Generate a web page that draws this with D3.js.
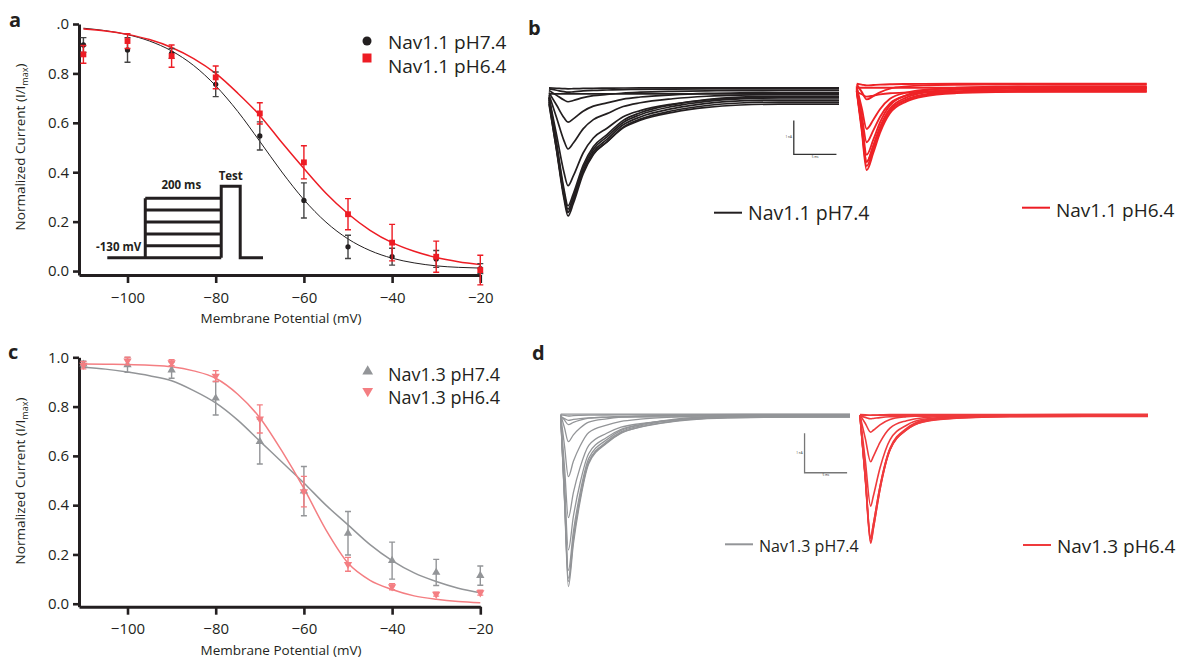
<!DOCTYPE html>
<html>
<head>
<meta charset="utf-8">
<script src="https://cdn.jsdelivr.net/npm/d3@7"></script>
<style>
  body { margin: 0; background: #fff; }
  text { font-family: "Open Sans", sans-serif; fill: #231f20; }
</style>
</head>
<body>
<div id="chart"></div>
<script>
// ---- steady-state inactivation data (a, c) ----
const voltages = [-110, -100, -90, -80, -70, -60, -50, -40, -30, -20];

const nav11_pH74     = [0.915, 0.895, 0.881, 0.756, 0.547, 0.286, 0.098, 0.058, 0.049, 0.010];
const nav11_pH74_err = [0.030, 0.050, 0.020, 0.050, 0.057, 0.071, 0.047, 0.034, 0.034, 0.020];
const nav11_pH64     = [0.877, 0.931, 0.870, 0.784, 0.638, 0.440, 0.230, 0.115, 0.058, 0.004];
const nav11_pH64_err = [0.036, 0.030, 0.045, 0.046, 0.043, 0.067, 0.063, 0.074, 0.063, 0.060];

const nav13_pH74     = [0.972, 0.969, 0.948, 0.834, 0.658, 0.457, 0.286, 0.175, 0.127, 0.114];
const nav13_pH74_err = [0.012, 0.030, 0.033, 0.068, 0.091, 0.100, 0.088, 0.075, 0.053, 0.039];
const nav13_pH64     = [0.968, 0.985, 0.978, 0.924, 0.750, 0.455, 0.160, 0.069, 0.039, 0.045];
const nav13_pH64_err = [0.015, 0.015, 0.012, 0.022, 0.057, 0.062, 0.028, 0.012, 0.008, 0.010];

// fitted curves, every 5 mV
const fitV = [-110, -105, -100, -95, -90, -85, -80, -75, -70, -65, -60, -55, -50, -45, -40, -35, -30, -25, -20];
const fit11_pH74 = [0.983, 0.973, 0.957, 0.931, 0.891, 0.832, 0.750, 0.646, 0.525, 0.401, 0.289, 0.198, 0.130, 0.083, 0.052, 0.033, 0.021, 0.015, 0.012];
const fit11_pH64 = [0.980, 0.972, 0.958, 0.937, 0.905, 0.860, 0.800, 0.720, 0.630, 0.520, 0.415, 0.315, 0.232, 0.165, 0.115, 0.080, 0.055, 0.038, 0.026];
const fit13_pH74 = [0.960, 0.952, 0.940, 0.925, 0.905, 0.865, 0.815, 0.745, 0.660, 0.575, 0.490, 0.400, 0.320, 0.240, 0.175, 0.125, 0.090, 0.063, 0.045];
const fit13_pH64 = [0.973, 0.972, 0.971, 0.968, 0.962, 0.945, 0.915, 0.850, 0.755, 0.620, 0.468, 0.300, 0.165, 0.095, 0.058, 0.032, 0.018, 0.009, 0.004];

const xTicks = [-100, -80, -60, -40, -20];
const yTicks = [0, 0.2, 0.4, 0.6, 0.8, 1.0];
const yTickLabelsA = ["0.0", "0.2", "0.4", "0.6", "0.8", ".0"];
const yTickLabelsC = ["0.0", "0.2", "0.4", "0.6", "0.8", "1.0"];

// voltage protocol (schematic)
const protoTimes = [0, 100, 300, 350, 410];
const protoHold = -130;
const protoSteps = [-120, -110, -100, -90, -80];
const protoTest = -70;

// ---- current traces (b, d): time in ms, template shape, peak amplitudes (nA), baselines (nA) ----
const b74_t     = [0, 0.9, 1.76, 2.23, 2.85, 4.0, 5.2, 6.8, 8.7, 10.7, 14.5, 18.5, 22.4, 27, 34];
const b74_shape = [0, -0.43, -0.85, -1, -0.89, -0.63, -0.46, -0.35, -0.22, -0.15, -0.076, -0.03, -0.008, 0, 0];
const b74_amp   = [3.35, 3.31, 3.27, 3.22, 3.17, 2.6, 1.6, 0.87, 0.33, 0.1, 0.03, 0];
const b74_base  = [-0.12, -0.06, 0, 0.05, -0.18, 0.02, 0.1, 0.16, 0.22, 0.27, 0.3, 0.12];

const b64_t     = [0, 0.59, 1.17, 1.95, 2.73, 3.9, 5.86, 7.8, 11.7, 17.6, 23.4, 34];
const b64_shape = [0, -0.5, -1, -0.78, -0.53, -0.28, -0.13, -0.067, -0.025, -0.008, 0, 0];
const b64_amp   = [2.32, 2.25, 2.18, 2.1, 2.02, 1.58, 1.23, 0.44, 0.14, 0.05, 0];
const b64_base  = [0.2, 0.25, 0.3, 0.22, 0.35, 0.28, 0.32, 0.4, 0.18, 0.42, 0.3];

const d74_t     = [0, 0.45, 0.9, 1.49, 2.28, 3.3, 5.4, 7.1, 9.35, 13.2, 17.2, 22.4, 34];
const d74_shape = [0, -0.5, -1, -0.75, -0.5, -0.28, -0.16, -0.1, -0.064, -0.03, -0.012, -0.003, 0];
const d74_amp   = [4.33, 4.22, 4.1, 3.95, 3.4, 2.55, 1.56, 0.69, 0.23, 0.09, 0.03, 0];
const d74_base  = [0, 0.02, -0.02, 0.03, 0, -0.03, 0.02, 0.04, 0.01, -0.02, 0.03, 0.05];

const d64_t     = [0, 0.63, 1.26, 1.57, 2.36, 3.54, 5.5, 7.47, 11.4, 17.7, 34];
const d64_shape = [0, -0.5, -1, -0.89, -0.58, -0.27, -0.11, -0.045, -0.015, -0.003, 0];
const d64_amp   = [3.25, 3.2, 3.14, 3.08, 2.31, 1.17, 0.44, 0.07, 0.02, 0];
const d64_base  = [0.02, 0, 0.03, -0.01, 0.02, 0.01, 0.03, 0, 0.04, 0.02];

const BLACK = "#231f20", RED = "#ed1c24", GRAY = "#939598", PINK = "#f47e82", RED_D = "#ef3a3c";

const svg = d3.select("#chart").append("svg")
  .attr("width", 1183)
  .attr("height", 660)
  .style("background", "#fff");

// panel letters
[["a", 9, 27], ["b", 528, 35], ["c", 8, 359], ["d", 532, 360]].forEach(p => {
  svg.append("text").attr("x", p[1]).attr("y", p[2])
    .attr("font-size", "20px").attr("font-weight", "bold").text(p[0]);
});

const x = d3.scaleLinear().domain([-111, -20]).range([79, 480.3]);

function symbolPath(type, size) {
  if (type === "circle") return d3.symbol(d3.symbolCircle, size)();
  if (type === "square") return d3.symbol(d3.symbolSquare, size)();
  return d3.symbol(d3.symbolTriangle, size)();
}

function drawPlot(y, tickLabels, titleY, series, fits, legendRows, legendFont) {
  const g = svg.append("g");

  // axes
  const xa = g.append("g")
    .attr("transform", "translate(0," + y.range()[0] + ")")
    .call(d3.axisBottom(x).tickValues(xTicks).tickSize(8).tickPadding(9).tickSizeOuter(0));
  const ya = g.append("g")
    .attr("transform", "translate(" + x.range()[0] + ",0)")
    .call(d3.axisLeft(y).tickValues(yTicks).tickSize(6).tickPadding(4).tickSizeOuter(0)
      .tickFormat((d, i) => tickLabels[i]));
  [xa, ya].forEach(a => {
    a.select(".domain").attr("stroke", BLACK).attr("stroke-width", 3);
    a.selectAll(".tick line").attr("stroke", BLACK).attr("stroke-width", 2.6);
    a.selectAll(".tick text").attr("font-size", "15px").attr("fill", "#2b2b2b")
      .style("font-family", "'Open Sans', sans-serif");
  });

  // axis titles
  g.append("text")
    .attr("x", 281).attr("y", y.range()[0] + 48)
    .attr("text-anchor", "middle").attr("font-size", "13.5px").attr("fill", "#333")
    .text("Membrane Potential (mV)");
  const yt = g.append("text")
    .attr("transform", "translate(24.5," + titleY + ") rotate(-90)")
    .attr("text-anchor", "middle").attr("font-size", "13.5px");
  yt.append("tspan").text("Normalized Current (I/I");
  yt.append("tspan").attr("font-size", "9px").attr("dy", 3).text("max");
  yt.append("tspan").attr("dy", -3).text(")");

  // fitted curves
  const line = d3.line().x(d => x(d[0])).y(d => y(d[1])).curve(d3.curveMonotoneX);
  fits.forEach(f => {
    g.append("path")
      .attr("d", line(fitV.map((v, i) => [v, f.vals[i]])))
      .attr("fill", "none").attr("stroke", f.color).attr("stroke-width", f.width);
  });

  // data with error bars
  series.forEach(s => {
    const sg = g.append("g");
    voltages.forEach((v, i) => {
      const cx = x(v), lo = y(s.vals[i] - s.errs[i]), hi = y(s.vals[i] + s.errs[i]);
      sg.append("path")
        .attr("d", "M" + cx + "," + lo + "V" + hi + "M" + (cx - 3) + "," + lo + "h6M" + (cx - 3) + "," + hi + "h6")
        .attr("stroke", s.errColor).attr("stroke-width", 1.4).attr("fill", "none");
    });
    sg.selectAll("path.mk").data(voltages).enter().append("path")
      .attr("class", "mk")
      .attr("d", symbolPath(s.marker, s.size))
      .attr("transform", (v, i) => "translate(" + x(v) + "," + y(s.vals[i]) + ")" + (s.flip ? " rotate(180)" : ""))
      .attr("fill", s.color);
  });

  // legend
  legendRows.forEach(r => {
    g.append("path")
      .attr("d", symbolPath(r.marker, r.size))
      .attr("transform", "translate(" + r.mx + "," + r.my + ")" + (r.flip ? " rotate(180)" : ""))
      .attr("fill", r.color);
    g.append("text").attr("x", 388).attr("y", r.ty)
      .attr("font-size", legendFont).attr("fill", "#2b2b2b").text(r.label);
  });
  return g;
}

// ---- panel a ----
const ya = d3.scaleLinear().domain([-0.016, 1]).range([275, 24]);
const ga = drawPlot(ya, yTickLabelsA, 147,
  [
    { vals: nav11_pH74, errs: nav11_pH74_err, color: BLACK, errColor: "#444", marker: "circle", size: 22 },
    { vals: nav11_pH64, errs: nav11_pH64_err, color: RED, errColor: RED, marker: "square", size: 34 }
  ],
  [
    { vals: fit11_pH74, color: BLACK, width: 1 },
    { vals: fit11_pH64, color: RED, width: 1.5 }
  ],
  [
    { marker: "circle", size: 64, mx: 367, my: 41, color: BLACK, ty: 48.5, label: "Nav1.1 pH7.4" },
    { marker: "square", size: 81, mx: 367, my: 58, color: RED, ty: 72.5, label: "Nav1.1 pH6.4" }
  ], "19px");

// voltage protocol inset
const px = d3.scaleLinear().domain([0, 410]).range([107.3, 263]);
const py = d3.scaleLinear().domain([-130, -70]).range([257.7, 186.3]);
let proto = "M" + px(protoTimes[0]) + "," + py(protoHold) + "H" + px(protoTimes[2]);
protoSteps.forEach(s => { proto += "M" + px(protoTimes[1]) + "," + py(s) + "H" + px(protoTimes[2]); });
proto += "M" + px(protoTimes[1]) + "," + py(protoHold) + "V" + py(d3.max(protoSteps));
proto += "M" + px(protoTimes[2]) + "," + py(protoHold) + "V" + py(protoTest) + "H" + px(protoTimes[3])
  + "V" + py(protoHold) + "H" + px(protoTimes[4]);
ga.append("path").attr("d", proto).attr("fill", "none").attr("stroke", BLACK).attr("stroke-width", 3);
ga.append("text").attr("x", px(protoTimes[1]) - 4).attr("y", py(protoHold) - 7)
  .attr("text-anchor", "end").attr("font-size", "11.5px").attr("font-weight", "bold").text("-130 mV");
ga.append("text").attr("x", px((protoTimes[1] + protoTimes[2]) / 2) - 2).attr("y", py(d3.max(protoSteps)) - 9)
  .attr("text-anchor", "middle").attr("font-size", "11.5px").attr("font-weight", "bold").text("200 ms");
ga.append("text").attr("x", px((protoTimes[2] + protoTimes[3]) / 2)).attr("y", py(protoTest) - 6.5)
  .attr("text-anchor", "middle").attr("font-size", "11.5px").attr("font-weight", "bold").text("Test");

// ---- panel c ----
const yc = d3.scaleLinear().domain([-0.012, 1]).range([606.7, 357.3]);
drawPlot(yc, yTickLabelsC, 481,
  [
    { vals: nav13_pH74, errs: nav13_pH74_err, color: GRAY, errColor: GRAY, marker: "triangle", size: 30 },
    { vals: nav13_pH64, errs: nav13_pH64_err, color: PINK, errColor: PINK, marker: "triangle", size: 30, flip: true }
  ],
  [
    { vals: fit13_pH74, color: GRAY, width: 1.5 },
    { vals: fit13_pH64, color: PINK, width: 1.5 }
  ],
  [
    { marker: "triangle", size: 50, mx: 367.7, my: 371.5, color: GRAY, ty: 381, label: "Nav1.3 pH7.4" },
    { marker: "triangle", size: 50, mx: 367.7, my: 391, color: PINK, flip: true, ty: 404, label: "Nav1.3 pH6.4" }
  ], "18px");

// ---- current traces ----
function drawTraces(xs, ys, t, shape, amps, bases, color, width) {
  const line = d3.line().x(d => xs(d[0])).y(d => ys(d[1])).curve(d3.curveMonotoneX);
  const g = svg.append("g");
  amps.forEach((a, k) => {
    g.append("path")
      .attr("d", line(t.map((tt, i) => [tt, bases[k] + a * shape[i]])))
      .attr("fill", "none").attr("stroke", color).attr("stroke-width", width)
      .attr("stroke-linejoin", "round");
  });
}

function scaleBar(xs, ys, t0, i0, color) {
  const g = svg.append("g");
  g.append("path")
    .attr("d", "M" + xs(t0) + "," + ys(i0 + 1) + "V" + ys(i0) + "H" + xs(t0 + 5))
    .attr("fill", "none").attr("stroke", color).attr("stroke-width", 1.3);
  g.append("text").attr("x", xs(t0) - 2).attr("y", (ys(i0) + ys(i0 + 1)) / 2 + 1)
    .attr("text-anchor", "end").attr("font-size", "3px").attr("fill", "#999").text("1 nA");
  g.append("text").attr("x", xs(t0 + 2.5)).attr("y", ys(i0) + 3.5)
    .attr("text-anchor", "middle").attr("font-size", "3px").attr("fill", "#999").text("5 ms");
}

function traceLegend(x0, yLine, color, fontSize, label, yText) {
  svg.append("line").attr("x1", x0).attr("x2", x0 + 28).attr("y1", yLine).attr("y2", yLine)
    .attr("stroke", color).attr("stroke-width", 2);
  svg.append("text").attr("x", x0 + 34).attr("y", yText)
    .attr("font-size", fontSize).attr("fill", "#2b2b2b").text(label);
}

// panel b
const yb = d3.scaleLinear().domain([-4, 1]).range([98 + 4 * 34, 98 - 34]);
const xb74 = d3.scaleLinear().domain([0, 34]).range([549, 839]);
const xb64 = d3.scaleLinear().domain([0, 34]).range([856.7, 1146.7]);
drawTraces(xb74, yb, b74_t, b74_shape, b74_amp, b74_base, BLACK, 1.7);
drawTraces(xb64, yb, b64_t, b64_shape, b64_amp, b64_base, "#ee2226", 1.9);
scaleBar(xb74, yb, 28.7, -1.66, "#333");
traceLegend(714, 212.7, BLACK, "19.5px", "Nav1.1 pH7.4", 220);
traceLegend(1022, 207.7, RED, "19px", "Nav1.1 pH6.4", 216.5);

// panel d
const yd = d3.scaleLinear().domain([-5, 1]).range([416 + 5 * 39.4, 416 - 39.4]);
const xd74 = d3.scaleLinear().domain([0, 34]).range([560.7, 850]);
const xd64 = d3.scaleLinear().domain([0, 34]).range([860, 1148]);
drawTraces(xd74, yd, d74_t, d74_shape, d74_amp, d74_base, GRAY, 1.3);
drawTraces(xd64, yd, d64_t, d64_shape, d64_amp, d64_base, RED_D, 1.6);
scaleBar(xd74, yd, 28.66, -1.44, "#777");
traceLegend(725, 544.3, GRAY, "16px", "Nav1.3 pH7.4", 551.5);
traceLegend(1023, 545, RED_D, "19px", "Nav1.3 pH6.4", 553);
</script>
</body>
</html>
